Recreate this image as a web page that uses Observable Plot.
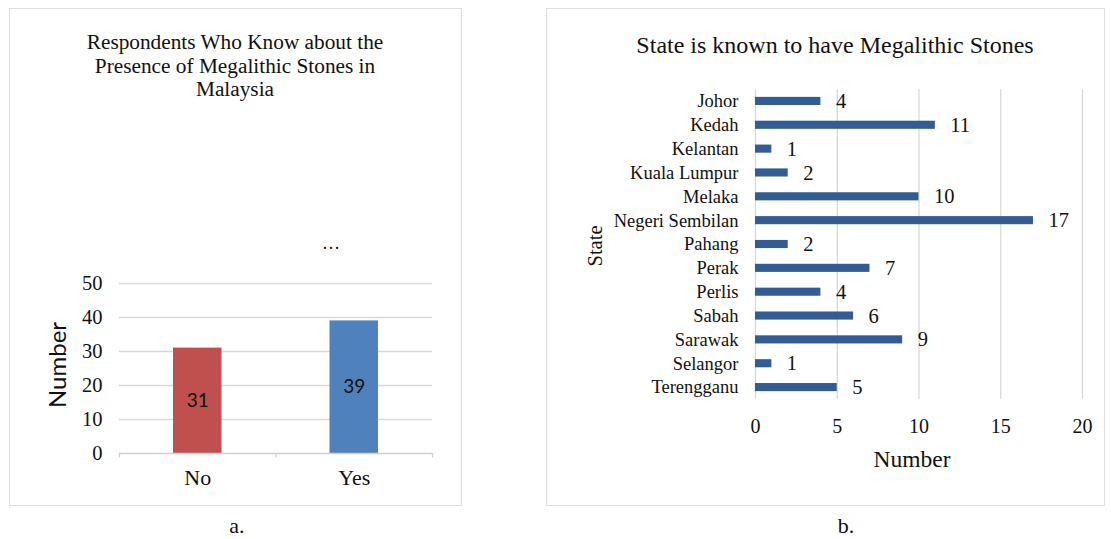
<!DOCTYPE html>
<html>
<head>
<meta charset="utf-8">
<script src="https://cdn.jsdelivr.net/npm/d3@7"></script>
<script src="https://cdn.jsdelivr.net/npm/@observablehq/plot@0.6"></script>
<style>
  html, body { margin: 0; padding: 0; background: #fff; }
  #root { position: relative; width: 1111px; height: 539px; overflow: hidden; font-family: "Liberation Serif", "Times New Roman", serif; color: #111; }
  .box { position: absolute; border: 1.5px solid #dedede; box-sizing: border-box; }
  .abs { position: absolute; white-space: nowrap; line-height: 1; }
  .chart { position: absolute; }
</style>
</head>
<body>
<div id="root">
  <div class="box" style="left:9px; top:8px; width:453px; height:498px;"></div>
  <div class="box" style="left:546px; top:8px; width:559px; height:498px;"></div>
  <div class="abs" style="left:10px; width:450px; top:31px; text-align:center; font-size:21.3px; line-height:23.5px;">Respondents Who Know about the<br>Presence of Megalithic Stones in<br>Malaysia</div>
  <div class="abs" style="left:546px; width:578px; top:33px; text-align:center; font-size:24px;">State is known to have Megalithic Stones</div>
  <div class="abs" style="left:322px; top:234px; font-size:18px;">…</div>
  <div class="abs" style="left:0; width:474px; top:515px; text-align:center; font-size:22px;">a.</div>
  <div class="abs" style="left:546px; width:600px; top:515px; text-align:center; font-size:22px;">b.</div>
  <div class="abs" style="left:57px; top:365px; transform: translate(-50%,-50%) rotate(-90deg); font-family: Lato, 'Open Sans', sans-serif; font-size:24px;">Number</div>
  <div class="abs" style="left:595px; top:246px; transform: translate(-50%,-50%) rotate(-90deg); font-size:20.5px;">State</div>
  <div class="abs" style="left:912px; top:460px; transform: translate(-50%,-50%); font-size:23.5px;">Number</div>
  <div id="left" class="chart" style="left:10px; top:10px;"></div>
  <div id="right" class="chart" style="left:546px; top:10px;"></div>
</div>
<script>
// ---- Data: panel a ----
const answers = ["No", "Yes"];
const answerCounts = [31, 39];
const answerColors = ["#C0504D", "#4F81BD"];
const countTicks = [0, 10, 20, 30, 40, 50];

// ---- Data: panel b ----
const states = ["Johor", "Kedah", "Kelantan", "Kuala Lumpur", "Melaka", "Negeri Sembilan", "Pahang", "Perak", "Perlis", "Sabah", "Sarawak", "Selangor", "Terengganu"];
const stateCounts = [4, 11, 1, 2, 10, 17, 2, 7, 4, 6, 9, 1, 5];
const numberTicks = [0, 5, 10, 15, 20];

const serif = "Liberation Serif, Times New Roman, serif";

// Panel a
const left = answers.map((a, i) => ({answer: a, idx: i, count: answerCounts[i], color: answerColors[i]}));
const leftPlot = Plot.plot({
  width: 451, height: 495,
  marginLeft: 109, marginRight: 29, marginTop: 273, marginBottom: 52,
  style: {fontFamily: serif, background: "transparent", overflow: "visible"},
  x: {domain: [0, answers.length], axis: null},
  y: {domain: [0, 50], axis: null},
  marks: [
    Plot.ruleY(countTicks.filter(t => t > 0), {stroke: "#d9d9d9", strokeWidth: 1.3, strokeOpacity: 1}),
    Plot.rectY(left, {x1: "idx", x2: d => d.idx + 1, y1: 0, y2: "count", fill: "color", insetLeft: 54, insetRight: 54}),
    Plot.ruleY([0], {stroke: "#d0d0d0", strokeWidth: 1.3}),
    Plot.ruleX(d3.range(answers.length + 1), {y1: 0, y2: -1.3, stroke: "#d0d0d0", strokeWidth: 1.3}),
    Plot.text(countTicks, {x: 0, y: d => d, text: d => String(d), textAnchor: "end", dx: -17, fontSize: 20.5, fill: "#111"}),
    Plot.text(left, {x: d => d.idx + 0.5, y: 0, text: "answer", dy: 24, fontSize: 22, fill: "#111"}),
    Plot.text(left, {x: d => d.idx + 0.5, y: d => d.count / 2, text: d => String(d.count), fontFamily: "Lato, Open Sans, sans-serif", fontSize: 19, fill: "#111"})
  ]
});
document.getElementById("left").appendChild(leftPlot);

// Panel b
const right = states.map((s, i) => ({state: s, count: stateCounts[i]}));
const rightPlot = Plot.plot({
  width: 558, height: 495,
  marginLeft: 209, marginRight: 22, marginTop: 79, marginBottom: 106,
  style: {fontFamily: serif, background: "transparent", overflow: "visible"},
  x: {domain: [0, 20], axis: null},
  y: {domain: states, paddingInner: 0.66, paddingOuter: 0.33, round: false, axis: null},
  marks: [
    Plot.ruleX(numberTicks, {stroke: "#d9d9d9", strokeWidth: 1.3}),
    Plot.barX(right, {y: "state", x: "count", fill: "#335C94"}),
    Plot.text(states, {x: 0, y: d => d, text: d => d, textAnchor: "end", dx: -17, fontSize: 18.5, fill: "#111"}),
    Plot.text(right, {x: "count", y: "state", text: d => String(d.count), textAnchor: "start", dx: 15, fontSize: 20.5, fill: "#111"}),
    Plot.axisX(numberTicks, {tickSize: 0, tickPadding: 19, fontSize: 20, tickFormat: d => String(d), fill: "#111", label: null})
  ]
});
document.getElementById("right").appendChild(rightPlot);
</script>
</body>
</html>
